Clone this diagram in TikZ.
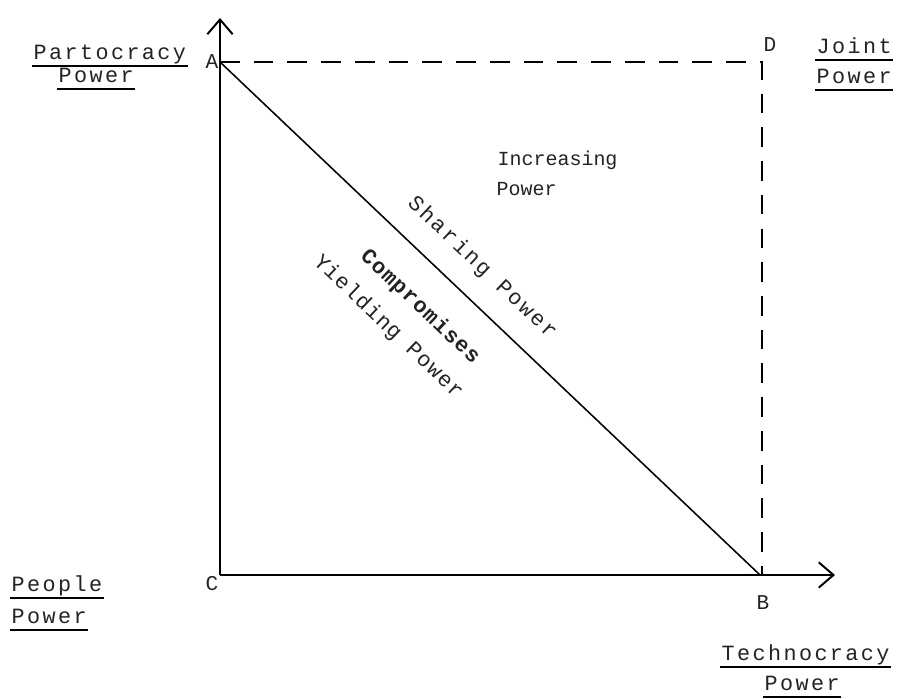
\documentclass[tikz,border=0pt]{standalone}
\usepackage{fontspec}
\usepackage{xcolor}
\usepackage{tikz}
\usetikzlibrary{
	arrows.meta,
	calc,
	positioning
}
\newfontfamily\typefont{Liberation Mono}
\newfontfamily\typewide[LetterSpace=11]{Liberation Mono}
\newfontfamily\typemid[LetterSpace=5.5]{Liberation Mono}
\definecolor{InkGray}{RGB}{35,35,35}

\tikzset{
	axis/.style={line width=1.5pt, -{Straight Barb[length=10.5pt, width=18pt, line width=1.4pt]}},
	guide/.style={line width=1pt, dash pattern=on 14pt off 10pt},
	diag/.style={line width=1.1pt},
	corner/.style={font=\typefont\fontsize{15}{18}\selectfont, text=InkGray, inner sep=1pt},
	plainlabel/.style={font=\typefont\fontsize{14.2}{17}\selectfont, text=InkGray, inner sep=1pt, anchor=base west},
	ulabel/.style={font=\typewide\fontsize{15.5}{18}\selectfont, text=InkGray, inner sep=1pt,
		text depth=3pt, anchor=base west,
		append after command={(\tikzlastnode.south west) edge[line width=1.2pt] (\tikzlastnode.south east)}},
	slopelabel/.style={font=\typemid\fontsize{15.5}{18}\selectfont, text=InkGray, inner sep=1pt, rotate=-43.5}
}

\begin{document}
\begin{tikzpicture}[x=0.25cm, y=0.25cm]
		\useasboundingbox (-22,-12.4) rectangle (69.1,57.5);
		
		% 顶点
		\coordinate (C) at (0,0);
		\coordinate (A) at (0,51.3);
		\coordinate (B) at (54,0);
		\coordinate (D) at (54.2,51.3);
		\coordinate (yTip) at (0,55.7);
		\coordinate (xTip) at (61.5,0);
		
		% 坐标轴
		\draw[axis] (C) -- (yTip);
		\draw[axis] (C) -- (xTip);
		
		% 虚线 A -- D -- B
		\draw[guide] (A) -- (D) -- (D |- C);
		
		% 对角线 A -- B
		\draw[diag] (A) -- (B);
		
		% 顶点标记
		\node[corner, left] (lblA) at (A) {A};
		\node[corner, below left] (lblC) at (C) {C};
		\node[corner] (lblB) at (54.3,-2.8) {B};
		\node[corner] (lblD) at (55,53) {D};
		
		% 四角的说明
		\node[ulabel] (partocracy) at (-18.8,51.5) {Partocracy};
		\node[ulabel] (partocracyPower) at (-16.3,49.2) {Power};
		\node[ulabel] (joint) at (59.5,52.1) {Joint};
		\node[ulabel] (jointPower) at (59.5,49.1) {Power};
		\node[ulabel] (people) at (-21,-1.7) {People};
		\node[ulabel] (peoplePower) at (-21,-4.9) {Power};
		\node[ulabel] (technocracy) at (50,-8.6) {Technocracy};
		\node[ulabel] (technocracyPower) at (54.3,-11.6) {Power};
		
		% 区域内的文字
		\node[plainlabel] (increasing) at (27.6,40.9) {Increasing};
		\node[plainlabel] (increasingPower) at (27.5,37.9) {Power};
		
		% 沿对角线的文字
		\node[slopelabel, font=\typewide\fontsize{15.5}{18}\selectfont] (sharing) at (26.2,30.7) {Sharing Power};
		\node[slopelabel, font=\typemid\bfseries\fontsize{15.5}{18}\selectfont] (compromises) at (20.0,26.8) {Compromises};
		\node[slopelabel] (yielding) at (16.8,24.8) {Yielding Power};
	\end{tikzpicture}
\end{document}
